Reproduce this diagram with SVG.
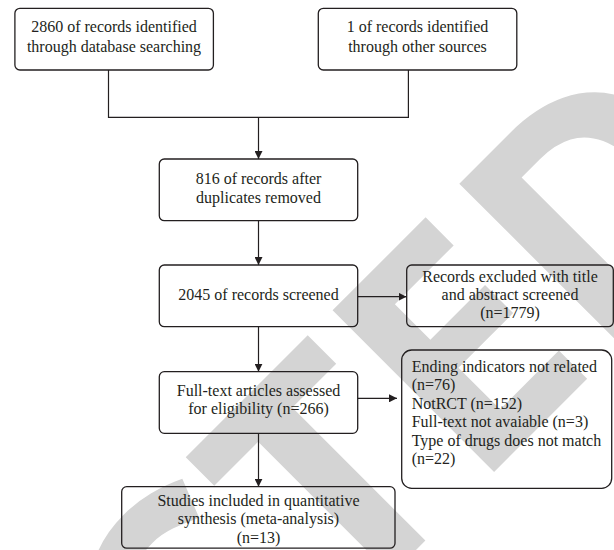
<svg xmlns="http://www.w3.org/2000/svg" width="614" height="550" viewBox="0 0 614 550">
<defs>
<style>
.wm{font-family:"Open Sans","Liberation Sans",sans-serif;font-weight:700;font-size:320px;fill:#d4d4d4}
.box{fill:none;stroke:#231f20;stroke-width:1.3}
.t{font-family:"Liberation Serif","Times New Roman",serif;font-size:16px;fill:#231f20}
.c{text-anchor:middle}
.ln{fill:none;stroke:#231f20;stroke-width:1.2}
</style>
<marker id="ah" markerWidth="8" markerHeight="8" refX="8" refY="4" orient="auto" markerUnits="userSpaceOnUse">
<path d="M0,0 L8,4 L0,8 Z" fill="#231f20"/>
</marker>
</defs>
<rect width="614" height="550" fill="#ffffff"/>
<g id="watermark">
<text class="wm" transform="translate(768,198) rotate(-45)" text-anchor="end">RETRACTED</text>
</g>
<g id="connectors">
<polyline class="ln" points="108.5,70 108.5,117.3 408.4,117.3 408.4,70"/>
<line class="ln" x1="258.5" y1="117.3" x2="258.5" y2="159" marker-end="url(#ah)"/>
<line class="ln" x1="258.5" y1="220.7" x2="258.5" y2="265" marker-end="url(#ah)"/>
<line class="ln" x1="357.7" y1="296.7" x2="406.5" y2="296.7" marker-end="url(#ah)"/>
<line class="ln" x1="258.5" y1="326.7" x2="258.5" y2="371.7" marker-end="url(#ah)"/>
<line class="ln" x1="357.7" y1="398.3" x2="397" y2="398.3" marker-end="url(#ah)"/>
<line class="ln" x1="258.5" y1="433.3" x2="258.5" y2="486.7" marker-end="url(#ah)"/>
</g>
<g id="n1">
<rect class="box" x="14.9" y="8.3" width="198.5" height="61.7" rx="5"/>
<text class="t c" x="114" y="31.7">2860 of records identified</text>
<text class="t c" x="114" y="51.7">through database searching</text>
</g>
<g id="n2">
<rect class="box" x="318.3" y="8.3" width="198.5" height="61.7" rx="5"/>
<text class="t c" x="417.5" y="31.7">1 of records identified</text>
<text class="t c" x="417.5" y="51.7">through other sources</text>
</g>
<g id="n3">
<rect class="box" x="159.3" y="159" width="198.4" height="61.7" rx="5"/>
<text class="t c" x="258.5" y="184">816 of records after</text>
<text class="t c" x="258.5" y="203.4">duplicates removed</text>
</g>
<g id="n4">
<rect class="box" x="159.3" y="265" width="198.4" height="61.7" rx="5"/>
<text class="t c" x="258.5" y="300">2045 of records screened</text>
</g>
<g id="n5">
<rect class="box" x="406.7" y="265" width="206.6" height="61.7" rx="5"/>
<text class="t c" x="510" y="281.7">Records excluded with title</text>
<text class="t c" x="510" y="300">and abstract screened</text>
<text class="t c" x="510" y="318.3">(n=1779)</text>
</g>
<g id="n6">
<rect class="box" x="159.3" y="371.7" width="198.4" height="61.6" rx="5"/>
<text class="t c" x="258.5" y="396">Full-text articles assessed</text>
<text class="t c" x="258.5" y="414.3">for eligibility (n=266)</text>
</g>
<g id="n7">
<rect class="box" x="401.7" y="350" width="210" height="138.3" rx="10"/>
<text class="t" x="411.7" y="371.5">Ending indicators not related</text>
<text class="t" x="411.7" y="390">(n=76)</text>
<text class="t" x="411.7" y="408.5">NotRCT (n=152)</text>
<text class="t" x="411.7" y="427">Full-text not avaiable (n=3)</text>
<text class="t" x="411.7" y="445.5">Type of drugs does not match</text>
<text class="t" x="411.7" y="464">(n=22)</text>
</g>
<g id="n8">
<rect class="box" x="121.7" y="486.7" width="273.3" height="61.5" rx="5"/>
<text class="t c" x="258.5" y="506">Studies included in quantitative</text>
<text class="t c" x="258.5" y="524.3">synthesis (meta-analysis)</text>
<text class="t c" x="258.5" y="542.5">(n=13)</text>
</g>
</svg>
